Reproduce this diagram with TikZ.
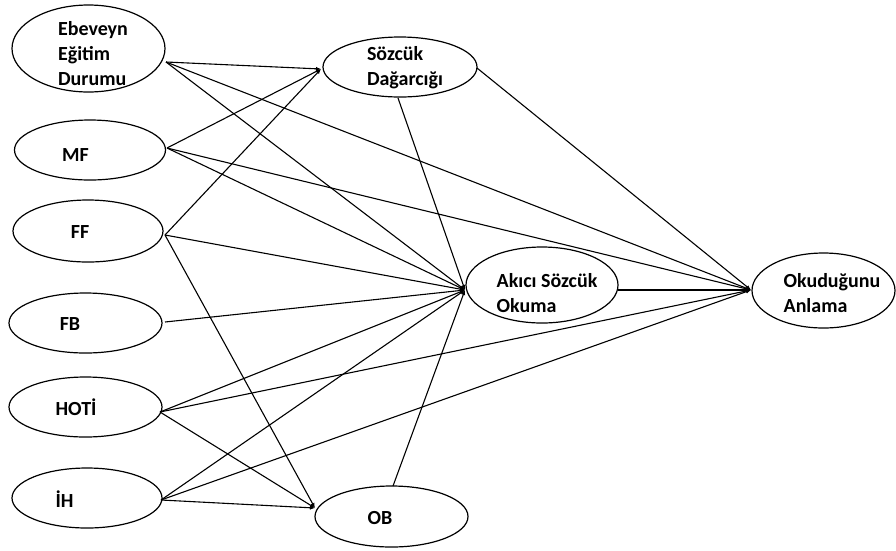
\documentclass[tikz,border=0pt]{standalone}
\usepackage{fontspec}
\setmainfont{Carlito}
\usetikzlibrary{shapes.geometric,arrows.meta}
\tikzset{
  ell/.style={draw, ellipse, line width=1.2pt, inner sep=0pt},
  txt/.style={font=\fontsize{20}{25}\selectfont\bfseries, align=left, inner sep=0pt},
  con/.style={line width=1.1pt, -{Latex[length=5pt,width=4pt]}},
}
\begin{document}
\begin{tikzpicture}[x=1pt,y=-1pt]
\useasboundingbox (0,0) rectangle (896,550);
% left column
\node[ell, minimum width=153pt, minimum height=87pt,
  label={[txt,xshift=4.5pt,yshift=-5pt]center:Ebeveyn\\Eğitim\\Durumu}] (ebe) at (88.5,48.5) {};
\node[ell, minimum width=151pt, minimum height=60pt,
  label={[txt,xshift=-14.5pt,yshift=-5pt]center:MF}] (mf) at (90,150) {};
\node[ell, minimum width=150pt, minimum height=62pt,
  label={[txt,xshift=-8pt,yshift=-1.5pt]center:FF}] (ff) at (88,231) {};
\node[ell, minimum width=153pt, minimum height=60pt,
  label={[txt,xshift=-15.5pt,yshift=-1pt]center:FB}] (fb) at (85.5,323) {};
\node[ell, minimum width=153pt, minimum height=60pt,
  label={[txt,xshift=-9.5pt,yshift=0pt]center:HOTİ}] (hoti) at (85.5,407) {};
\node[ell, minimum width=150pt, minimum height=60pt,
  label={[txt,xshift=-22.5pt,yshift=-1.5pt]center:İH}] (ih) at (87,498) {};
% middle
\node[ell, minimum width=154pt, minimum height=60pt,
  label={[txt,xshift=5pt,yshift=-1pt]center:Sözcük\\Dağarcığı}] (soz) at (400,67) {};
\node[ell, minimum width=152pt, minimum height=76pt,
  label={[txt,xshift=5pt,yshift=-8pt]center:Akıcı Sözcük\\Okuma}] (aki) at (542,285) {};
\node[ell, minimum width=153pt, minimum height=61pt,
  label={[txt,xshift=-11.5pt,yshift=-1pt]center:OB}] (ob) at (391.5,516.5) {};
% right
\node[ell, minimum width=143pt, minimum height=75pt,
  label={[txt,xshift=8.5pt,yshift=-2.5pt]center:Okuduğunu\\Anlama}] (oku) at (823.5,290.5) {};
% ports
\coordinate (ebeO) at (166,62);
\coordinate (mfO) at (167,148);
\coordinate (ffO) at (165,235);
\coordinate (fbO) at (165,322);
\coordinate (hotiO) at (160,412);
\coordinate (ihO) at (161,500);
\coordinate (sozI) at (321,69);
\coordinate (akiI) at (465,290);
\coordinate (okuI) at (751,290);
\coordinate (obI) at (315,508);
\coordinate (sozB) at (398,98);
\coordinate (sozR) at (477,68);
\coordinate (akiR) at (618,290);
\coordinate (obT) at (393,486);
% connectors
\draw[con] (ebeO) -- (sozI);
\draw[con] (ebeO) -- (akiI);
\draw[con] (ebeO) -- (okuI);
\draw[con] (mfO) -- (sozI);
\draw[con] (mfO) -- (akiI);
\draw[con] (mfO) -- (okuI);
\draw[con] (ffO) -- (sozI);
\draw[con] (ffO) -- (akiI);
\draw[con] (ffO) -- (obI);
\draw[con] (fbO) -- (akiI);
\draw[con] (hotiO) -- (akiI);
\draw[con] (hotiO) -- (okuI);
\draw[con] (hotiO) -- (obI);
\draw[con] (ihO) -- (akiI);
\draw[con] (ihO) -- (okuI);
\draw[con] (ihO) -- (obI);
\draw[con] (sozB) -- (akiI);
\draw[con] (sozR) -- (okuI);
\draw[con] (akiR) -- (okuI);
\draw[con] (obT) -- (akiI);
\end{tikzpicture}
\end{document}
